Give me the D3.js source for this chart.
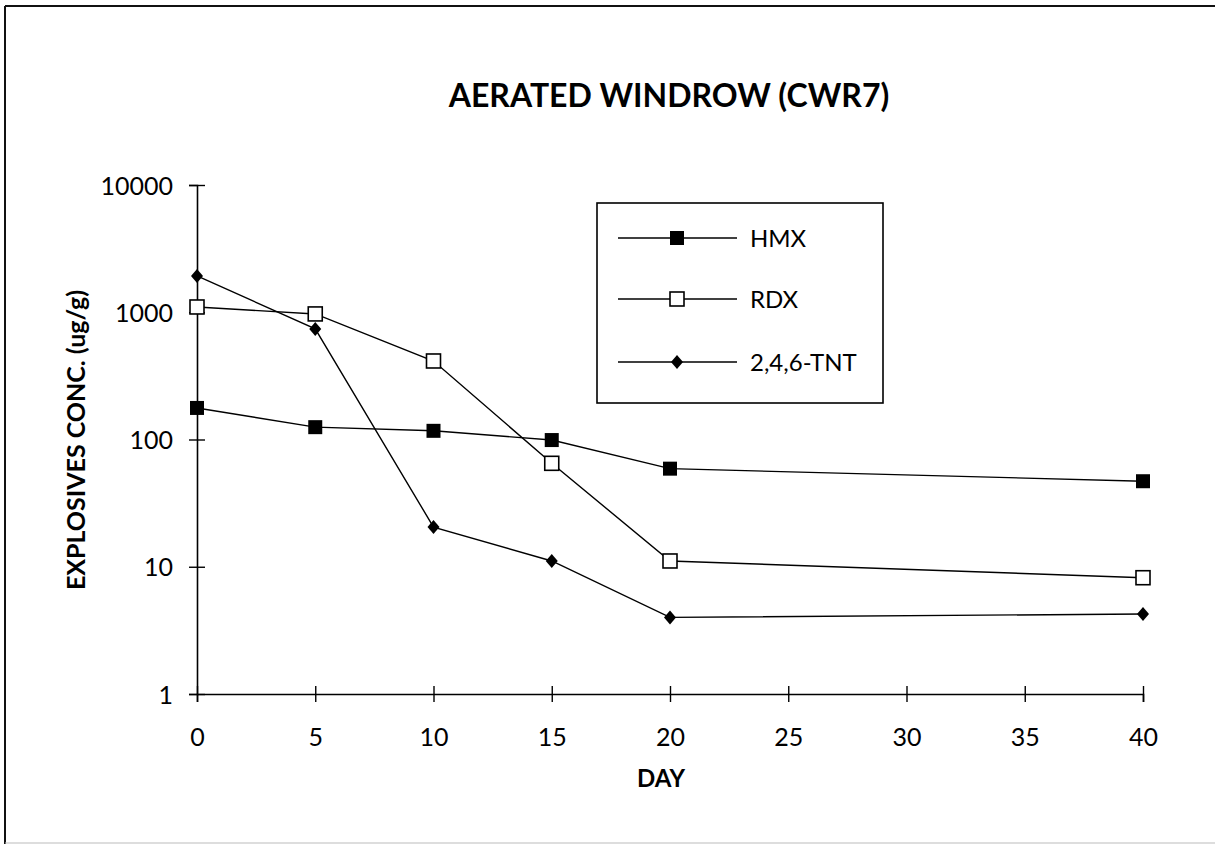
<!DOCTYPE html>
<html>
<head>
<meta charset="utf-8">
<script src="https://cdn.jsdelivr.net/npm/d3@7"></script>
<style>
  html, body { margin: 0; padding: 0; background: #fff; }
  svg { display: block; }
  text { font-family: "Lato", "Noto Sans", sans-serif; fill: #000; }
</style>
</head>
<body>
<svg id="chart" width="1215" height="844"></svg>
<script>
// ---- data ----
const days = [0, 5, 10, 15, 20, 40];
const hmx = [177, 125, 117, 99, 59, 47];
const rdx = [1100, 970, 414, 65, 11.1, 8.2];
const tnt = [1930, 740, 20.5, 11.1, 4.0, 4.25];
const seriesNames = ["HMX", "RDX", "2,4,6-TNT"];
const xTicks = [0, 5, 10, 15, 20, 25, 30, 35, 40];
const yTicks = [1, 10, 100, 1000, 10000];
const titleText = "AERATED WINDROW (CWR7)";
const xTitle = "DAY";
const yTitle = "EXPLOSIVES CONC. (ug/g)";

const svg = d3.select("#chart");

// frame
svg.append("line").attr("x1", 5).attr("y1", 6).attr("x2", 1215).attr("y2", 6)
  .attr("stroke", "#111").attr("stroke-width", 2);
svg.append("line").attr("x1", 5).attr("y1", 6).attr("x2", 5).attr("y2", 844)
  .attr("stroke", "#111").attr("stroke-width", 2);
svg.append("line").attr("x1", 5).attr("y1", 843).attr("x2", 1215).attr("y2", 843)
  .attr("stroke", "#bbb").attr("stroke-width", 1);

const x = d3.scaleLinear().domain([0, 40]).range([197, 1143]);
const y = d3.scaleLog().domain([1, 10000]).range([694, 185]);

// title
svg.append("text").attr("x", 669).attr("y", 107).attr("text-anchor", "middle")
  .attr("font-size", 32).attr("font-weight", "bold").text(titleText);

// x axis
const gx = svg.append("g").attr("transform", `translate(0,${y(1)})`)
  .call(d3.axisBottom(x).tickValues(xTicks).tickSize(8).tickPadding(0).tickFormat(d3.format("d")));
gx.select(".domain").attr("stroke", "#000").attr("stroke-width", 1.6);
gx.selectAll(".tick line").attr("y1", -8).attr("y2", 8).attr("stroke", "#000").attr("stroke-width", 1.4);
gx.selectAll(".tick text").attr("y", 52).attr("dy", null)
  .attr("font-size", 25).attr("font-family", "Lato, 'Noto Sans', sans-serif").attr("fill", "#000");

// y axis
const gy = svg.append("g").attr("transform", `translate(${x(0)},0)`)
  .call(d3.axisLeft(y).tickValues(yTicks).tickSize(8).tickPadding(0).tickFormat(d3.format("d")));
gy.select(".domain").attr("stroke", "#000").attr("stroke-width", 1.6);
gy.selectAll(".tick line").attr("x1", 8).attr("x2", -8).attr("stroke", "#000").attr("stroke-width", 1.4);
gy.selectAll(".tick text").attr("x", -24).attr("dy", "0.36em")
  .attr("font-size", 25).attr("font-family", "Lato, 'Noto Sans', sans-serif").attr("fill", "#000");

// axis titles
svg.append("text").attr("x", 661).attr("y", 787).attr("text-anchor", "middle")
  .attr("font-size", 24).attr("font-weight", "bold").text(xTitle);
svg.append("text").attr("transform", `translate(85,440) rotate(-90)`).attr("text-anchor", "middle")
  .attr("font-size", 25).attr("font-weight", "bold").text(yTitle);

// markers
function drawMarker(g, type, cx, cy) {
  if (type === 0) {
    g.append("rect").attr("x", cx - 7).attr("y", cy - 7).attr("width", 14).attr("height", 14)
      .attr("fill", "#000");
  } else if (type === 1) {
    g.append("rect").attr("x", cx - 7).attr("y", cy - 7).attr("width", 14).attr("height", 14)
      .attr("fill", "#fff").attr("stroke", "#000").attr("stroke-width", 1.6);
  } else {
    g.append("path").attr("d", `M${cx},${cy - 7}L${cx + 6},${cy}L${cx},${cy + 7}L${cx - 6},${cy}Z`)
      .attr("fill", "#000");
  }
}

const allSeries = [hmx, rdx, tnt];
const line = d3.line().x((d, i) => x(days[i])).y(d => y(d));
const plot = svg.append("g");
allSeries.forEach((vals, k) => {
  plot.append("path").attr("d", line(vals)).attr("fill", "none")
    .attr("stroke", "#000").attr("stroke-width", 1.4);
});
allSeries.forEach((vals, k) => {
  vals.forEach((v, i) => drawMarker(plot, k, x(days[i]), y(v)));
});

// legend
const lg = svg.append("g");
lg.append("rect").attr("x", 597).attr("y", 203).attr("width", 286).attr("height", 200)
  .attr("fill", "#fff").attr("stroke", "#000").attr("stroke-width", 1.6);
const rowY = [238, 299, 362];
seriesNames.forEach((name, k) => {
  lg.append("line").attr("x1", 618).attr("x2", 737).attr("y1", rowY[k]).attr("y2", rowY[k])
    .attr("stroke", "#000").attr("stroke-width", 1.4);
  drawMarker(lg, k, 677, rowY[k]);
  lg.append("text").attr("x", 750).attr("y", rowY[k]).attr("dy", "0.36em")
    .attr("font-size", 24).text(name);
});
</script>
</body>
</html>
